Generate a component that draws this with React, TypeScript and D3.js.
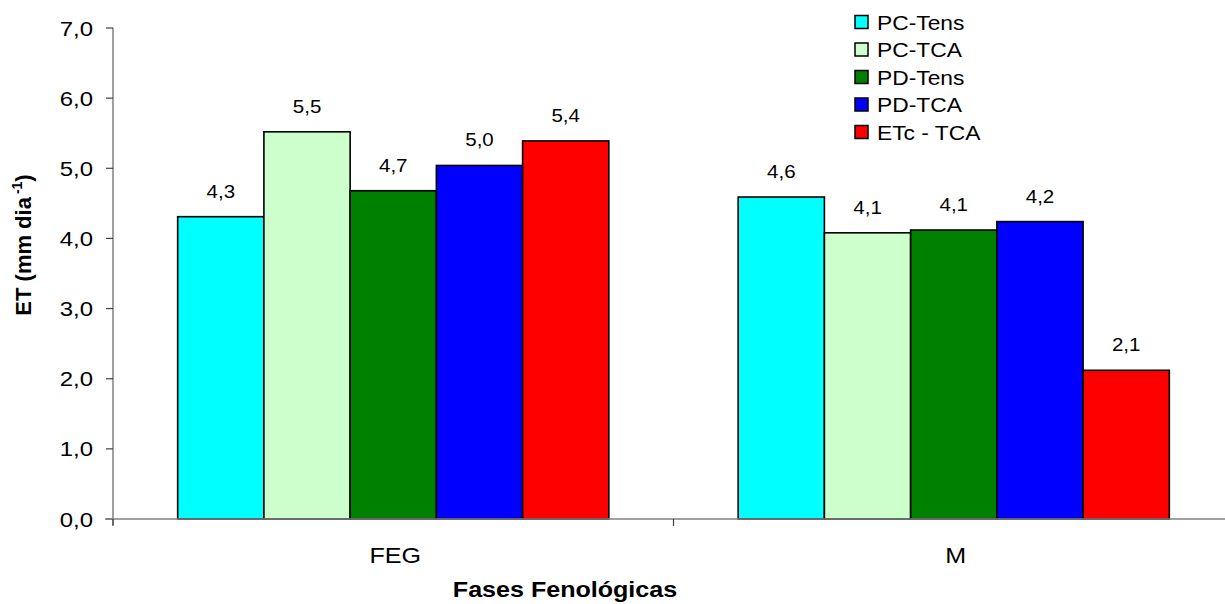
import React from "react";
import * as d3 from "d3";

const categories = ["FEG", "M"];
const seriesNames = ["PC-Tens", "PC-TCA", "PD-Tens", "PD-TCA", "ETc - TCA"];
const seriesColors = ["#00FFFF", "#CCFFCC", "#008000", "#0000FF", "#FF0000"];
const valuesFEG = [4.31, 5.52, 4.68, 5.04, 5.39];
const valuesM = [4.59, 4.08, 4.12, 4.24, 2.12];
const yTicks = [0, 1, 2, 3, 4, 5, 6, 7];

const W = 1225;
const H = 604;
const margin = { left: 113, top: 28, bottom: 85 };
const font = "'Liberation Sans', Arial, sans-serif";
const SX = 1.14;

function T(props: {
  x: number;
  y: number;
  size: number;
  anchor?: string;
  bold?: boolean;
  children: React.ReactNode;
}) {
  return (
    <text
      transform={`translate(${props.x},${props.y}) scale(${SX},1)`}
      textAnchor={props.anchor || "start"}
      fontSize={props.size}
      fontWeight={props.bold ? "bold" : "normal"}
      fill="#000"
    >
      {props.children}
    </text>
  );
}

export default function App() {
  const data = [valuesFEG, valuesM];
  const y = d3.scaleLinear().domain([0, 7]).range([H - margin.bottom, margin.top]);
  const x = d3.scaleBand<string>().domain(categories).range([margin.left, 1234]).paddingInner(0).paddingOuter(0);
  const bw = x.bandwidth() / 6.5;
  const inner = d3.scaleBand<number>().domain(d3.range(5)).range([0.75 * bw, 5.75 * bw]).padding(0);
  const fmt = (v: number) => v.toFixed(1).replace(".", ",");
  const y0 = y(0);

  return (
    <svg width={W} height={H} style={{ position: "absolute", left: 0, top: 0, background: "#fff" }} fontFamily={font}>
      {/* bars */}
      {categories.map((c, ci) =>
        data[ci].map((v, si) => {
          const bx = (x(c) as number) + (inner(si) as number);
          return (
            <g key={c + si}>
              <rect x={bx} y={y(v)} width={inner.bandwidth()} height={y0 - y(v)} fill={seriesColors[si]} stroke="#000" strokeWidth={1.6} />
              <T x={bx + inner.bandwidth() / 2} y={y(v) - 19} size={18} anchor="middle">
                {fmt(v)}
              </T>
            </g>
          );
        })
      )}
      {/* y axis */}
      <line x1={margin.left} x2={margin.left} y1={y(7)} y2={y0 + 6} stroke="#808080" strokeWidth={1.5} />
      {yTicks.map((t) => (
        <g key={t}>
          <line x1={margin.left - 7} x2={margin.left} y1={y(t)} y2={y(t)} stroke="#404040" strokeWidth={1.2} />
          <T x={93} y={y(t) + 7.5} size={21} anchor="end">
            {fmt(t)}
          </T>
        </g>
      ))}
      {/* x axis */}
      <line x1={margin.left - 8} x2={W} y1={y0} y2={y0} stroke="#808080" strokeWidth={1.5} />
      {[x.range()[0], x("M") as number].map((p, i) => (
        <line key={i} x1={p} x2={p} y1={y0} y2={y0 + 7} stroke="#404040" strokeWidth={1.2} />
      ))}
      {categories.map((c) => (
        <T key={c} x={(x(c) as number) + x.bandwidth() / 2 + 2} y={563} size={22} anchor="middle">
          {c}
        </T>
      ))}
      {/* axis titles */}
      <T x={565} y={597} size={22} anchor="middle" bold>
        Fases Fenológicas
      </T>
      <text transform={`translate(31, 245) rotate(-90)`} textAnchor="middle" fontSize={22} fontWeight="bold" fill="#000">
        ET (mm dia
        <tspan fontSize={14} dx={3} dy={-9}>-1</tspan>
        <tspan dy={9}>)</tspan>
      </text>
      {/* legend */}
      {seriesNames.map((n, i) => (
        <g key={n}>
          <rect x={855} y={22 + i * 27.5 - 6.5} width={13} height={13} fill={seriesColors[i]} stroke="#000" strokeWidth={1.5} />
          <T x={877} y={22 + i * 27.5 + 7.5} size={20}>
            {n}
          </T>
        </g>
      ))}
    </svg>
  );
}
